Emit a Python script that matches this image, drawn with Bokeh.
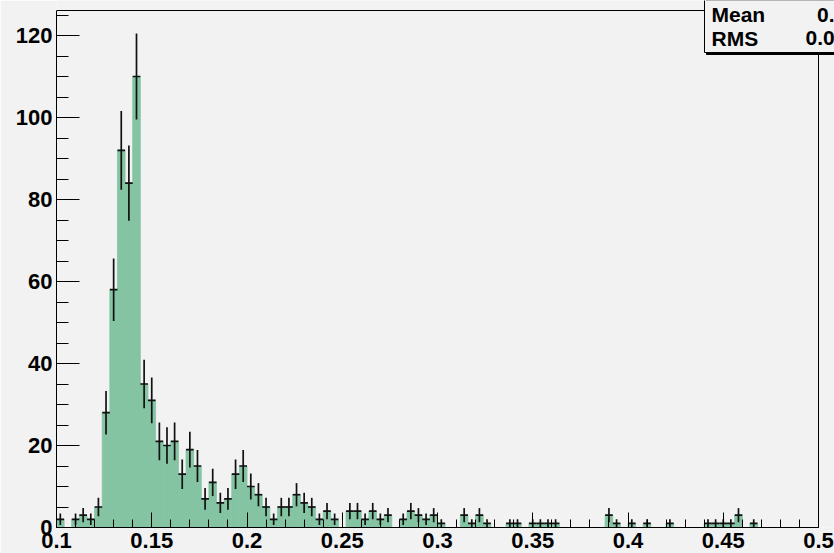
import math
from bokeh.plotting import figure
from bokeh.models import Range1d, FixedTicker, NumeralTickFormatter, Label, ColumnDataSource, Span
from bokeh.embed import file_html
from bokeh.resources import INLINE

# histogram definition (100 bins from 0.1 to 0.5)
x_min = 0.1
x_max = 0.5
y_max = 126.1
n_bins = 100
counts = [
    2, 0, 2, 3, 2, 5, 28, 58, 92, 84,
    110, 35, 31, 21, 20, 21, 13, 19, 15, 7,
    11, 6, 7, 13, 15, 10, 8, 5, 2, 5,
    5, 8, 6, 5, 2, 4, 2, 0, 4, 4,
    2, 4, 2, 3, 0, 2, 4, 3, 2, 3,
    1, 0, 0, 3, 1, 3, 1, 0, 0, 1,
    1, 0, 1, 1, 1, 1, 0, 0, 0, 0,
    0, 0, 3, 1, 0, 1, 0, 1, 0, 0,
    1, 0, 0, 0, 0, 1, 1, 1, 1, 3,
    0, 1, 0, 0, 0, 0, 0, 0, 0, 0,
]
x_ticks = [0.1, 0.15, 0.2, 0.25, 0.3, 0.35, 0.4, 0.45, 0.5]
x_minor = [round(0.1 + 0.01 * i, 2) for i in range(41)]
y_ticks = [0, 20, 40, 60, 80, 100, 120]
y_minor = [5 * i for i in range(26)]
stat_names = ["Mean", "RMS"]
stat_values = ["0.", "0.0"]

bw = (x_max - x_min) / n_bins
nz = [i for i in range(n_bins) if counts[i] > 0]
left = [x_min + i * bw for i in nz]
right = [l + bw for l in left]
centers = [l + bw / 2 for l in left]
vals = [counts[i] for i in nz]

src = ColumnDataSource(dict(
    left=left, right=right, top=vals, bottom=[0] * len(nz), xc=centers,
    lo=[v - math.sqrt(v) for v in vals], hi=[v + math.sqrt(v) for v in vals],
))

BG = "#f2f2f2"
FILL = "#84c4a3"
FONT = "Liberation Sans"

# pixel geometry of the ROOT frame inside the 834x553 canvas
FL, FR, FT, FB = 56, 818, 10, 527
px_per_x = (FR - FL) / (x_max - x_min)
px_per_y = (FB - FT) / y_max
def dx(px):
    return x_min + (px - FL) / px_per_x
def dy(py):
    return (FB - py) / px_per_y

# the plotting area runs to the canvas' top and right edges, so that the
# stats box can sit across the frame corner as in the reference
p = figure(width=834, height=553, output_backend="svg", toolbar_location=None,
           x_range=Range1d(x_min, dx(834)), y_range=Range1d(0, dy(0)),
           min_border_left=FL, min_border_right=0, min_border_top=0, min_border_bottom=553 - FB)
p.background_fill_color = BG
p.border_fill_color = BG
p.outline_line_color = None
p.grid.visible = False

p.quad(left="left", right="right", top="top", bottom="bottom", source=src,
       fill_color=FILL, line_color=FILL, line_width=0.8)
p.segment(x0="xc", y0="lo", x1="xc", y1="hi", source=src, line_color="#111111", line_width=1.7)
p.segment(x0="left", y0="top", x1="right", y1="top", source=src, line_color="#111111", line_width=1.7)

# frame top and right edges
p.add_layout(Span(location=y_max, dimension="width", line_color="black", line_width=1))
p.add_layout(Span(location=x_max, dimension="height", line_color="black", line_width=1))

for ax in (p.xaxis[0], p.yaxis[0]):
    ax.axis_line_color = "black"
    ax.major_tick_out = 0
    ax.minor_tick_out = 0
    ax.major_tick_line_color = "black"
    ax.minor_tick_line_color = "black"
    ax.major_label_text_font = FONT
    ax.major_label_text_font_style = "bold"
    ax.major_label_text_font_size = "22px"
    ax.major_label_text_color = "black"
    ax.major_label_text_line_height = 1.0

p.xaxis[0].ticker = FixedTicker(ticks=x_ticks, minor_ticks=x_minor)
p.xaxis[0].formatter = NumeralTickFormatter(format="0.0[0]")
p.xaxis[0].bounds = (x_min, x_max)
p.xaxis[0].major_tick_in = 15
p.xaxis[0].minor_tick_in = 8
p.xaxis[0].major_label_standoff = 5

p.yaxis[0].ticker = FixedTicker(ticks=y_ticks, minor_ticks=y_minor)
p.yaxis[0].bounds = (0, y_max)
p.yaxis[0].major_tick_in = 23
p.yaxis[0].minor_tick_in = 12
p.yaxis[0].major_label_standoff = 4

# stats box (shadow + box), partly outside the window as in the reference
p.add_layout(Label(x=dx(706), y=dy(54), text=" ", text_font_size="1px",
                   text_align="left", text_baseline="bottom",
                   background_fill_color="black", border_line_color="black",
                   padding=dict(left=0, right=220, top=70, bottom=0)))
p.add_layout(Label(x=dx(704), y=dy(52), text=" ", text_font_size="1px",
                   text_align="left", text_baseline="bottom",
                   background_fill_color=BG, border_line_color="black", border_line_width=1,
                   padding=dict(left=0, right=220, top=70, bottom=0)))

for name, val, base, vx in zip(stat_names, stat_values, [14, 37.5], [816.5, 805]):
    for txt, xx in ((name, 711), (val, vx)):
        p.add_layout(Label(x=dx(xx), y=dy(base), text=txt, text_font=FONT, text_font_style="bold",
                           text_font_size="21px", text_baseline="alphabetic", text_color="black"))

open("out.html", "w").write(file_html(p, INLINE))
